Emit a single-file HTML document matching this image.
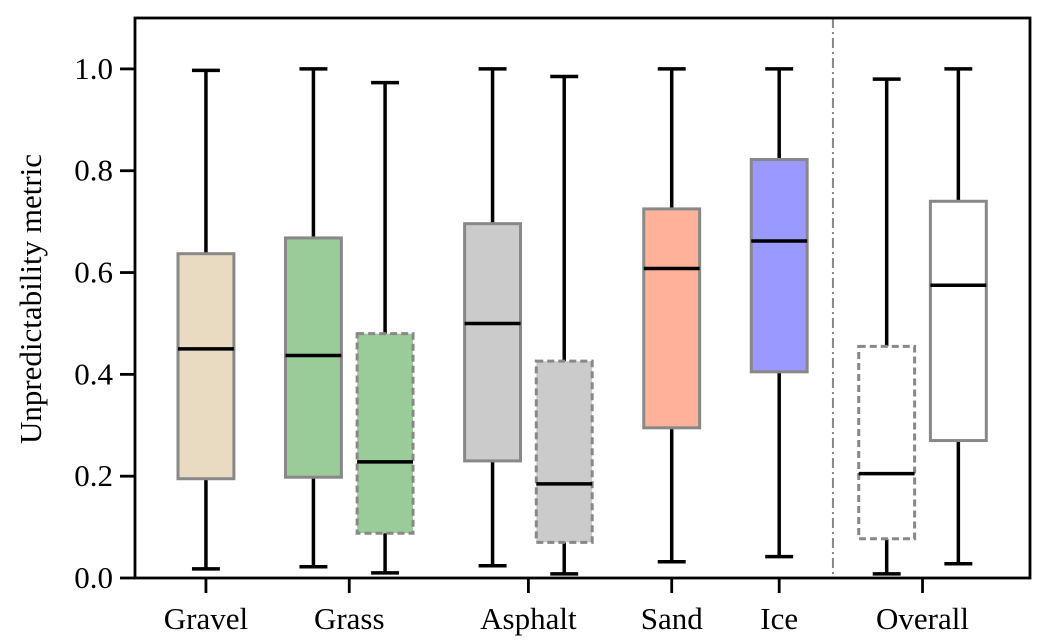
<!DOCTYPE html>
<html><head><meta charset="utf-8">
<style>
html,body{margin:0;padding:0;background:#fff;}
svg{display:block;font-family:"Liberation Serif","DejaVu Serif",serif;}
</style></head>
<body>
<svg id="chart" width="1039" height="642" viewBox="0 0 1039 642"></svg>
<script>
const categories = ["Gravel","Grass","Grass","Asphalt","Asphalt","Sand","Ice","Overall","Overall"];
const positions = [0,1.5,2.5,4,5,6.5,8,9.5,10.5];
const whiskerLow = [0.018,0.022,0.010,0.024,0.008,0.032,0.042,0.008,0.028];
const q1Values = [0.195,0.198,0.088,0.230,0.070,0.295,0.405,0.077,0.270];
const medians = [0.450,0.437,0.228,0.500,0.185,0.608,0.662,0.205,0.575];
const q3Values = [0.637,0.668,0.480,0.696,0.426,0.725,0.822,0.455,0.740];
const whiskerHigh = [0.997,1.000,0.973,1.000,0.985,1.000,1.000,0.980,1.000];
const dashedFlags = [false,false,true,false,true,false,false,true,false];
const fills = ["#e9dbc2","#99cc99","#99cc99","#cbcbcb","#cbcbcb","#ffb299","#9999ff","#ffffff","#ffffff"];
const tickLabels = ["Gravel","Grass","Asphalt","Sand","Ice","Overall"];
const tickPositions = [0,2,4.5,6.5,8,10];
const yTicks = [0,0.2,0.4,0.6,0.8,1.0];
const dividerPos = 8.75;

const L=135,R=1030,T=18,B=578;
const xmin=-0.99,xmax=11.5,ymin=0,ymax=1.1;
const xs=v=>L+(v-xmin)/(xmax-xmin)*(R-L);
const ys=v=>B-(v-ymin)/(ymax-ymin)*(B-T);
const svg=document.getElementById('chart');
const NS='http://www.w3.org/2000/svg';
function mk(tag,attrs,parent){const e=document.createElementNS(NS,tag);for(const k in attrs)e.setAttribute(k,attrs[k]);(parent||svg).appendChild(e);return e;}

const bw=0.78, cw=0.39;
positions.forEach((p,i)=>{
  const g=mk('g',{});
  
  
  const xc=xs(p);
  const halfB=(xs(p+bw/2)-xs(p-bw/2))/2, halfC=(xs(p+cw/2)-xs(p-cw/2))/2;
  mk('line',{x1:xc,x2:xc,y1:ys(whiskerLow[i]),y2:ys(q1Values[i]),stroke:'#000','stroke-width':3.5},g);
  mk('line',{x1:xc,x2:xc,y1:ys(q3Values[i]),y2:ys(whiskerHigh[i]),stroke:'#000','stroke-width':3.5},g);
  mk('line',{x1:xc-halfC,x2:xc+halfC,y1:ys(whiskerLow[i]),y2:ys(whiskerLow[i]),stroke:'#000','stroke-width':3.5},g);
  mk('line',{x1:xc-halfC,x2:xc+halfC,y1:ys(whiskerHigh[i]),y2:ys(whiskerHigh[i]),stroke:'#000','stroke-width':3.5},g);
  const r=mk('rect',{x:xc-halfB,y:ys(q3Values[i]),width:2*halfB,height:ys(q1Values[i])-ys(q3Values[i]),fill:fills[i],stroke:'#888','stroke-width':3},g);
  if(dashedFlags[i]) r.setAttribute('stroke-dasharray','7,4');
  mk('line',{x1:xc-halfB,x2:xc+halfB,y1:ys(medians[i]),y2:ys(medians[i]),stroke:'#000','stroke-width':3.5},g);
});

const dv=mk('line',{x1:xs(dividerPos),x2:xs(dividerPos),y1:T,y2:B,stroke:'#888','stroke-width':2,'stroke-dasharray':'10,4,2,4'});



const frame=mk('rect',{x:L,y:T,width:R-L,height:B-T,fill:'none',stroke:'#000','stroke-width':2.8});



yTicks.forEach(v=>{
  mk('line',{x1:L-15,x2:L,y1:ys(v),y2:ys(v),stroke:'#000','stroke-width':2.8});
  const t=mk('text',{x:L-22,y:ys(v)+10,'text-anchor':'end','font-size':31});
  t.textContent=v.toFixed(1);
  
  
});
tickPositions.forEach((p,i)=>{
  mk('line',{x1:xs(p),x2:xs(p),y1:B,y2:B+15,stroke:'#000','stroke-width':2.8});
  const t=mk('text',{x:xs(p),y:629,'text-anchor':'middle','font-size':31});
  t.textContent=tickLabels[i];
  
  
});
const yl=mk('text',{x:0,y:0,transform:'translate(41,299) rotate(-90)','text-anchor':'middle','font-size':31});
yl.textContent='Unpredictability metric';


</script>
</body></html>
